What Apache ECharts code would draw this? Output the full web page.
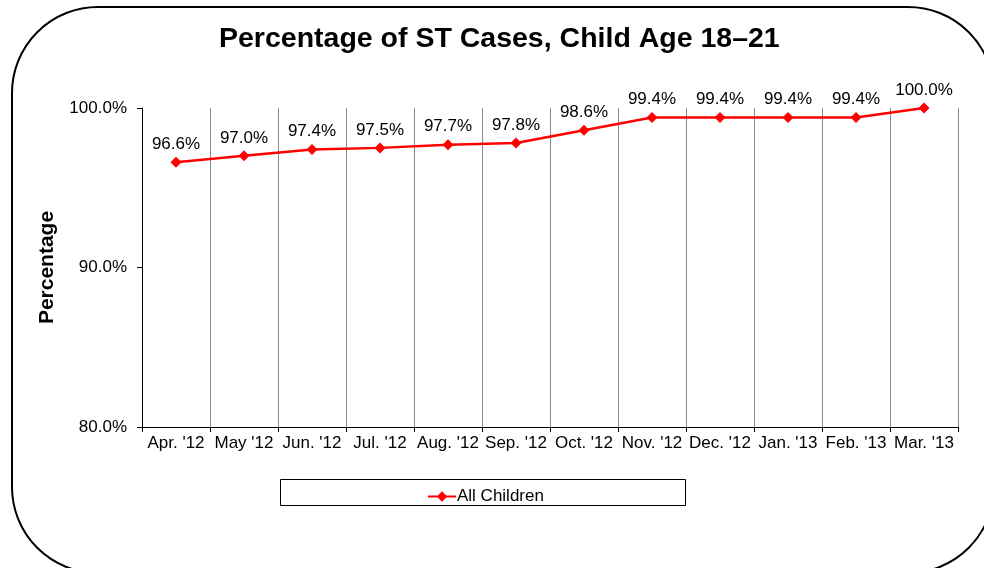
<!DOCTYPE html>
<html>
<head>
<meta charset="utf-8">
<script src="https://cdn.jsdelivr.net/npm/echarts@6/dist/echarts.min.js"></script>
<style>
  html, body { margin: 0; padding: 0; background: #fff; }
  #chart { width: 984px; height: 568px; }
</style>
</head>
<body>
<div id="chart"></div>
<script>
const months = ["Apr. '12", "May '12", "Jun. '12", "Jul. '12", "Aug. '12", "Sep. '12",
  "Oct. '12", "Nov. '12", "Dec. '12", "Jan. '13", "Feb. '13", "Mar. '13"]
const allChildren = [96.6, 97.0, 97.4, 97.5, 97.7, 97.8, 98.6, 99.4, 99.4, 99.4, 99.4, 100.0]
const yTicks = [80, 90, 100]

const font = 'Liberation Sans, Arial, sans-serif'
const chart = echarts.init(document.getElementById('chart'))

chart.setOption({
  animation: false,
  textStyle: { fontFamily: font, color: '#000' },
  title: {
    text: 'Percentage of ST Cases, Child Age 18\u201321',
    left: 214, top: 20,
    textStyle: { fontSize: 28.5, fontWeight: 'bold', color: '#000', fontFamily: font },
  },
  graphic: [
    {
      type: 'rect', z: -1,
      shape: { x: 12, y: 7, width: 982, height: 566, r: 86 },
      style: { fill: 'none', stroke: '#000', lineWidth: 2 },
    },
    {
      type: 'rect',
      shape: { x: 280.5, y: 479.5, width: 405, height: 26 },
      style: { fill: '#fff', stroke: '#000', lineWidth: 1 },
    },
  ],
  legend: {
    data: ['All Children'],
    left: 422, top: 483,
    itemWidth: 28, itemHeight: 13, itemGap: 0,
    textStyle: { fontSize: 17, color: '#000', fontFamily: font, padding: [0, 0, 0, -4] },
    z: 10,
  },
  grid: { left: 142, right: 26, top: 108, bottom: 141 },
  xAxis: {
    type: 'category',
    data: months,
    boundaryGap: true,
    axisLine: { lineStyle: { color: '#000', width: 1 } },
    axisTick: { show: true, length: 5, lineStyle: { color: '#000' } },
    axisLabel: { fontSize: 17, color: '#000', margin: 8, interval: 0 },
    splitLine: { show: true, lineStyle: { color: '#8c8c8c', width: 1 } },
  },
  yAxis: {
    type: 'value',
    min: yTicks[0], max: yTicks[yTicks.length - 1], interval: 10,
    name: 'Percentage',
    nameLocation: 'middle', nameGap: 84, nameRotate: 90,
    nameTextStyle: { fontSize: 21, fontWeight: 'bold', color: '#000', fontFamily: font },
    axisLine: { show: true, lineStyle: { color: '#000', width: 1 } },
    axisTick: { show: true, length: 5, lineStyle: { color: '#000' } },
    axisLabel: { fontSize: 17, color: '#000', margin: 15, formatter: v => v.toFixed(1) + '%' },
    splitLine: { show: false },
  },
  series: [{
    name: 'All Children',
    type: 'line',
    data: allChildren,
    symbol: 'diamond', symbolSize: 11,
    itemStyle: { color: '#ff0000' },
    lineStyle: { color: '#ff0000', width: 2.5 },
    label: {
      show: true, position: 'top', distance: 4,
      fontSize: 17, color: '#000', fontFamily: font,
      formatter: p => p.value.toFixed(1) + '%',
    },
  }],
})
</script>
</body>
</html>
